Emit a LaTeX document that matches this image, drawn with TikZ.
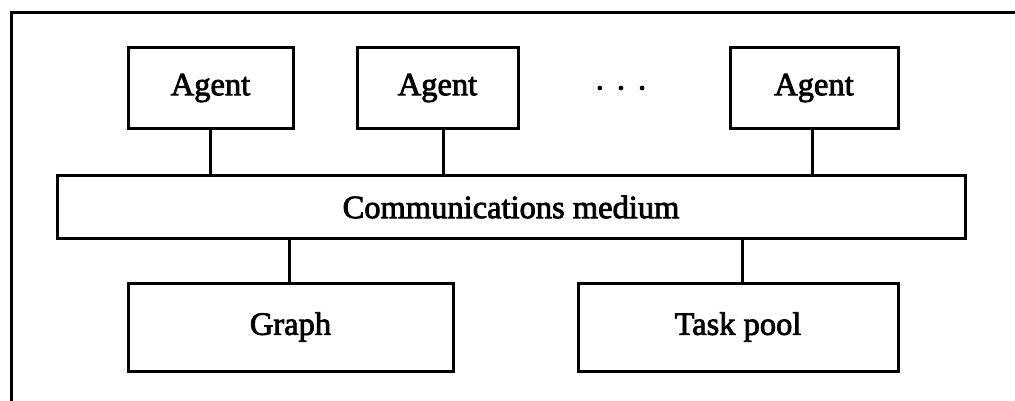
\documentclass[tikz,border=0pt]{standalone}
\usepackage{fontspec}
\setmainfont{Liberation Serif}
\newfontfamily\heavyserif{Liberation Serif}[FakeBold=2.5]
\begin{document}
\begin{tikzpicture}[x=1pt,y=-1pt,
  lbl/.style={font=\heavyserif\fontsize{32.5}{38}\selectfont},
  box/.style={lbl,draw,line width=3pt,rectangle,inner sep=0pt},
  link/.style={line width=3pt}]
\useasboundingbox (0,0) rectangle (1015,401);
\draw[line width=3pt] (11,401) -- (11,13) -- (1015,13);
\node[box,minimum width=165pt,minimum height=81pt] (a1) at (210.5,88) {Agent};
\node[box,minimum width=161pt,minimum height=81pt] (a2) at (437.5,88) {Agent};
\node[lbl,inner sep=0pt] (dots) at (621,88) {.\hspace{0.4em}.\hspace{0.4em}.};
\node[box,minimum width=168pt,minimum height=81pt] (a3) at (814,88) {Agent};
\node[box,minimum width=908pt,minimum height=62pt] (comm) at (511,207) {Communications medium};
\node[box,minimum width=325pt,minimum height=88pt] (graph) at (290.5,327) {Graph};
\node[box,minimum width=320pt,minimum height=88pt] (pool) at (738,327) {Task pool};
\draw[link] (a1.south) -- (a1.south |- comm.north);
\draw[link] ([xshift=5.5pt]a2.south) -- ([xshift=5.5pt]a2.south |- comm.north);
\draw[link] ([xshift=-2pt]a3.south) -- ([xshift=-2pt]a3.south |- comm.north);
\draw[link] ([xshift=-1.5pt]graph.north |- comm.south) -- ([xshift=-1.5pt]graph.north);
\draw[link] ([xshift=4pt]pool.north |- comm.south) -- ([xshift=4pt]pool.north);
\end{tikzpicture}
\end{document}
